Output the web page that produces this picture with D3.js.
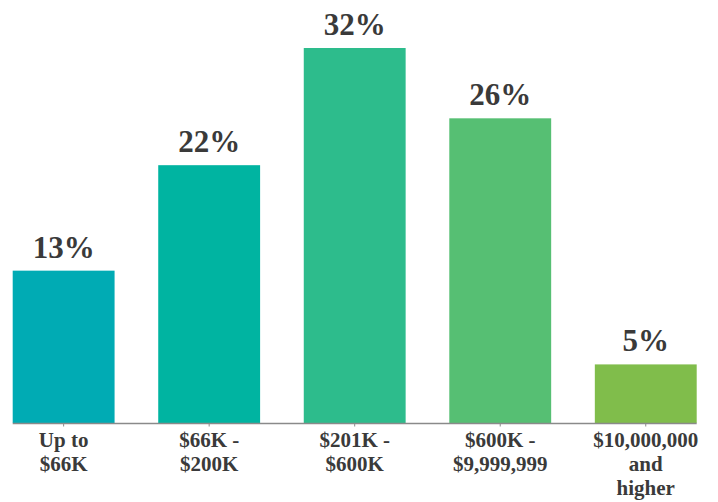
<!DOCTYPE html>
<html>
<head>
<meta charset="utf-8">
<script src="https://cdn.jsdelivr.net/npm/d3@7"></script>
<style>
  html, body { margin: 0; padding: 0; background: #ffffff; }
  svg { display: block; }
</style>
</head>
<body>
<svg id="chart" width="718" height="502"></svg>
<script>
// Share of respondents by income bracket
const categories = [
  ["Up to", "$66K"],
  ["$66K -", "$200K"],
  ["$201K -", "$600K"],
  ["$600K -", "$9,999,999"],
  ["$10,000,000", "and", "higher"]
];
const values = [13, 22, 32, 26, 5];
const valueLabels = ["13%", "22%", "32%", "26%", "5%"];
const colors = ["#00abb4", "#00b4a1", "#2dbc8c", "#56bf73", "#80bd4b"];

const fontFamily = "'Liberation Serif', 'Times New Roman', Times, serif";
const textColor = "#3a3a3a";

const svg = d3.select("#chart");
const baseline = 423;

const x = d3.scaleBand()
  .domain(d3.range(categories.length))
  .range([12.7, 696.7])
  .paddingInner(0.3)
  .paddingOuter(0);

const y = d3.scaleLinear()
  .domain([0, d3.max(values)])
  .range([baseline, 48]);

// bars
svg.append("g").selectAll("rect")
  .data(values)
  .join("rect")
  .attr("x", (d, i) => x(i))
  .attr("y", d => y(d))
  .attr("width", x.bandwidth())
  .attr("height", d => baseline - y(d))
  .attr("fill", (d, i) => colors[i]);

// value labels above bars
svg.append("g").selectAll("text")
  .data(values)
  .join("text")
  .attr("x", (d, i) => x(i) + x.bandwidth() / 2)
  .attr("y", d => y(d) - 13)
  .attr("text-anchor", "middle")
  .attr("font-family", fontFamily)
  .attr("font-weight", "bold")
  .attr("font-size", 31)
  .attr("fill", textColor)
  .text((d, i) => valueLabels[i]);

// baseline axis with small ticks
const axis = svg.append("g").attr("transform", `translate(0,${baseline + 0.5})`);
axis.append("line")
  .attr("x1", x.range()[0]).attr("x2", x.range()[1])
  .attr("stroke", "#8a8a8a").attr("stroke-width", 1.5);
axis.selectAll("line.tick")
  .data(d3.range(categories.length))
  .join("line")
  .attr("class", "tick")
  .attr("x1", i => x(i) + x.bandwidth() / 2)
  .attr("x2", i => x(i) + x.bandwidth() / 2)
  .attr("y1", 0).attr("y2", 3)
  .attr("stroke", "#8a8a8a").attr("stroke-width", 1);

// category labels
const labels = svg.append("g").selectAll("text")
  .data(categories)
  .join("text")
  .attr("x", (d, i) => x(i) + x.bandwidth() / 2)
  .attr("y", 447)
  .attr("text-anchor", "middle")
  .attr("font-family", fontFamily)
  .attr("font-weight", "bold")
  .attr("font-size", 21)
  .attr("fill", textColor);
labels.selectAll("tspan")
  .data(d => d)
  .join("tspan")
  .attr("x", function() { return this.parentNode.getAttribute("x"); })
  .attr("dy", (d, j) => j === 0 ? 0 : 24)
  .text(d => d);
</script>
</body>
</html>
